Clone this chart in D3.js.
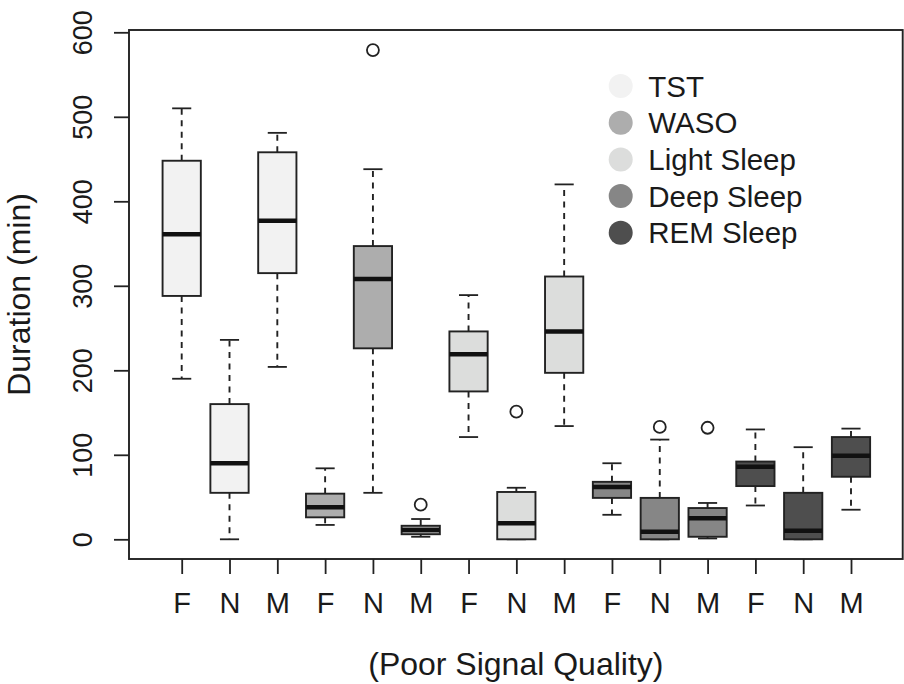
<!DOCTYPE html>
<html>
<head>
<meta charset="utf-8">
<script src="https://cdn.jsdelivr.net/npm/d3@7"></script>
<style>
    body { margin: 0; background: #fff; }
    svg { display: block; font-family: "Liberation Sans", Arial, Helvetica, sans-serif; }
    text { fill: #1a1a1a; }
</style>
</head>
<body>
<div id="chart"></div>
<script>
// sleep measures (one colour each), three signal-quality groups per measure
const measures = ["TST", "WASO", "Light Sleep", "Deep Sleep", "REM Sleep"];
const quality = ["F", "N", "M"];
const measureColors = ["#f2f2f2", "#adadad", "#dcdddc", "#868686", "#4e4e4e"];

// box statistics, 15 boxes in order TST F,N,M, WASO F,N,M, ...
const whiskerLow  = [190, 0, 204,  17,  55,  3, 121,  0, 134,  29,   0,  1,  40,   0,  35];
const q1          = [288, 55, 315, 26, 226,  6, 175,  0, 197,  49,   0,  3,  63,   0,  74];
const median      = [361, 90, 377, 38, 308, 11, 219, 19, 246,  62,   9, 25,  86,  10,  99];
const q3          = [448, 160, 458, 54, 347, 16, 246, 56, 311, 68,  49, 37,  92,  55, 121];
const whiskerHigh = [510, 236, 481, 84, 438, 24, 289, 61, 420, 90, 118, 43, 130, 109, 131];
const outliers    = [[], [], [], [], [579], [41], [], [151], [], [], [133], [132], [], [], []];

const yTicks = [0, 100, 200, 300, 400, 500, 600];

const width = 904, height = 684;
const frame = { left: 129, right: 902.7, top: 30, bottom: 559 };

var svg = d3.select("#chart")
    .append("svg")
    .attr("width", width)
    .attr("height", height);

var xScale = d3.scaleLinear()
    .domain([1, 15])
    .range([181.7, 851]);

var yScale = d3.scaleLinear()
    .domain([0, 600])
    .range([539.3, 32.3]);

var boxes = d3.range(15).map(function (i) {
    return {
        pos: i + 1,
        label: quality[i % 3],
        color: measureColors[Math.floor(i / 3)],
        lo: whiskerLow[i], q1: q1[i], med: median[i], q3: q3[i], hi: whiskerHigh[i],
        out: outliers[i]
    };
});

var halfBox = (xScale(1.4) - xScale(1));
var halfCap = (xScale(1.2) - xScale(1));

var g = svg.selectAll("g.box")
    .data(boxes)
    .enter().append("g")
    .attr("class", "box");

// whiskers (dashed)
g.append("line")
    .attr("x1", d => xScale(d.pos)).attr("x2", d => xScale(d.pos))
    .attr("y1", d => yScale(d.q3)).attr("y2", d => yScale(d.hi))
    .attr("stroke", "#222").attr("stroke-width", 1.9)
    .attr("stroke-dasharray", "6,5.5");
g.append("line")
    .attr("x1", d => xScale(d.pos)).attr("x2", d => xScale(d.pos))
    .attr("y1", d => yScale(d.q1)).attr("y2", d => yScale(d.lo))
    .attr("stroke", "#222").attr("stroke-width", 1.9)
    .attr("stroke-dasharray", "6,5.5");

// staples
g.selectAll("line.cap")
    .data(d => [{ x: d.pos, v: d.hi }, { x: d.pos, v: d.lo }])
    .enter().append("line")
    .attr("class", "cap")
    .attr("x1", d => xScale(d.x) - halfCap).attr("x2", d => xScale(d.x) + halfCap)
    .attr("y1", d => yScale(d.v)).attr("y2", d => yScale(d.v))
    .attr("stroke", "#222").attr("stroke-width", 1.8);

// box
g.append("rect")
    .attr("x", d => xScale(d.pos) - halfBox)
    .attr("width", 2 * halfBox)
    .attr("y", d => yScale(d.q3))
    .attr("height", d => yScale(d.q1) - yScale(d.q3))
    .attr("fill", d => d.color)
    .attr("stroke", "#222").attr("stroke-width", 1.9);

// median
g.append("line")
    .attr("x1", d => xScale(d.pos) - halfBox).attr("x2", d => xScale(d.pos) + halfBox)
    .attr("y1", d => yScale(d.med)).attr("y2", d => yScale(d.med))
    .attr("stroke", "#111").attr("stroke-width", 4.5);

// outliers
g.selectAll("circle")
    .data(d => d.out.map(v => ({ x: d.pos, v: v })))
    .enter().append("circle")
    .attr("cx", d => xScale(d.x))
    .attr("cy", d => yScale(d.v))
    .attr("r", 6)
    .attr("fill", "none")
    .attr("stroke", "#222").attr("stroke-width", 1.8);

// frame
svg.append("rect")
    .attr("x", frame.left).attr("y", frame.top)
    .attr("width", frame.right - frame.left)
    .attr("height", frame.bottom - frame.top)
    .attr("fill", "none")
    .attr("stroke", "#222").attr("stroke-width", 1.9);

// y axis
var yAxis = d3.axisLeft(yScale)
    .tickValues(yTicks)
    .tickSize(15)
    .tickFormat(d3.format("d"));

var ya = svg.append("g")
    .attr("class", "y-axis")
    .attr("transform", "translate(" + frame.left + ",0)")
    .call(yAxis);
ya.select(".domain").remove();
ya.selectAll(".tick line").attr("stroke", "#222").attr("stroke-width", 1.8);
ya.selectAll(".tick text")
    .attr("transform", "rotate(-90)")
    .attr("x", 0).attr("y", -37).attr("dy", null)
    .attr("text-anchor", "middle")
    .style("font-size", "27px")
    .style("font-family", "Liberation Sans, Arial, sans-serif")
    .attr("fill", "#1a1a1a");

// x axis
var xAxis = d3.axisBottom(xScale)
    .tickValues(d3.range(1, 16))
    .tickSize(15)
    .tickFormat(d => quality[(d - 1) % 3]);

var xa = svg.append("g")
    .attr("class", "x-axis")
    .attr("transform", "translate(0," + frame.bottom + ")")
    .call(xAxis);
xa.select(".domain").remove();
xa.selectAll(".tick line").attr("stroke", "#222").attr("stroke-width", 1.8);
xa.selectAll(".tick text")
    .attr("y", 54).attr("dy", null)
    .style("font-size", "29px")
    .style("font-family", "Liberation Sans, Arial, sans-serif")
    .attr("fill", "#1a1a1a");

// axis titles
svg.append("text")
    .attr("x", (frame.left + frame.right) / 2)
    .attr("y", 675)
    .attr("text-anchor", "middle")
    .style("font-size", "32px")
    .text("(Poor Signal Quality)");

svg.append("text")
    .attr("transform", "translate(30," + ((frame.top + frame.bottom) / 2) + ") rotate(-90)")
    .attr("text-anchor", "middle")
    .style("font-size", "32px")
    .text("Duration (min)");

// legend
var legend = svg.selectAll("g.legend")
    .data(measures)
    .enter().append("g")
    .attr("class", "legend")
    .attr("transform", (d, i) => "translate(620.7," + (86 + i * 36.7) + ")");

legend.append("circle")
    .attr("r", 12)
    .attr("fill", (d, i) => measureColors[i]);

legend.append("text")
    .attr("x", 27.6)
    .attr("y", 10.5)
    .style("font-size", "29.5px")
    .text(d => d);
</script>
</body>
</html>
